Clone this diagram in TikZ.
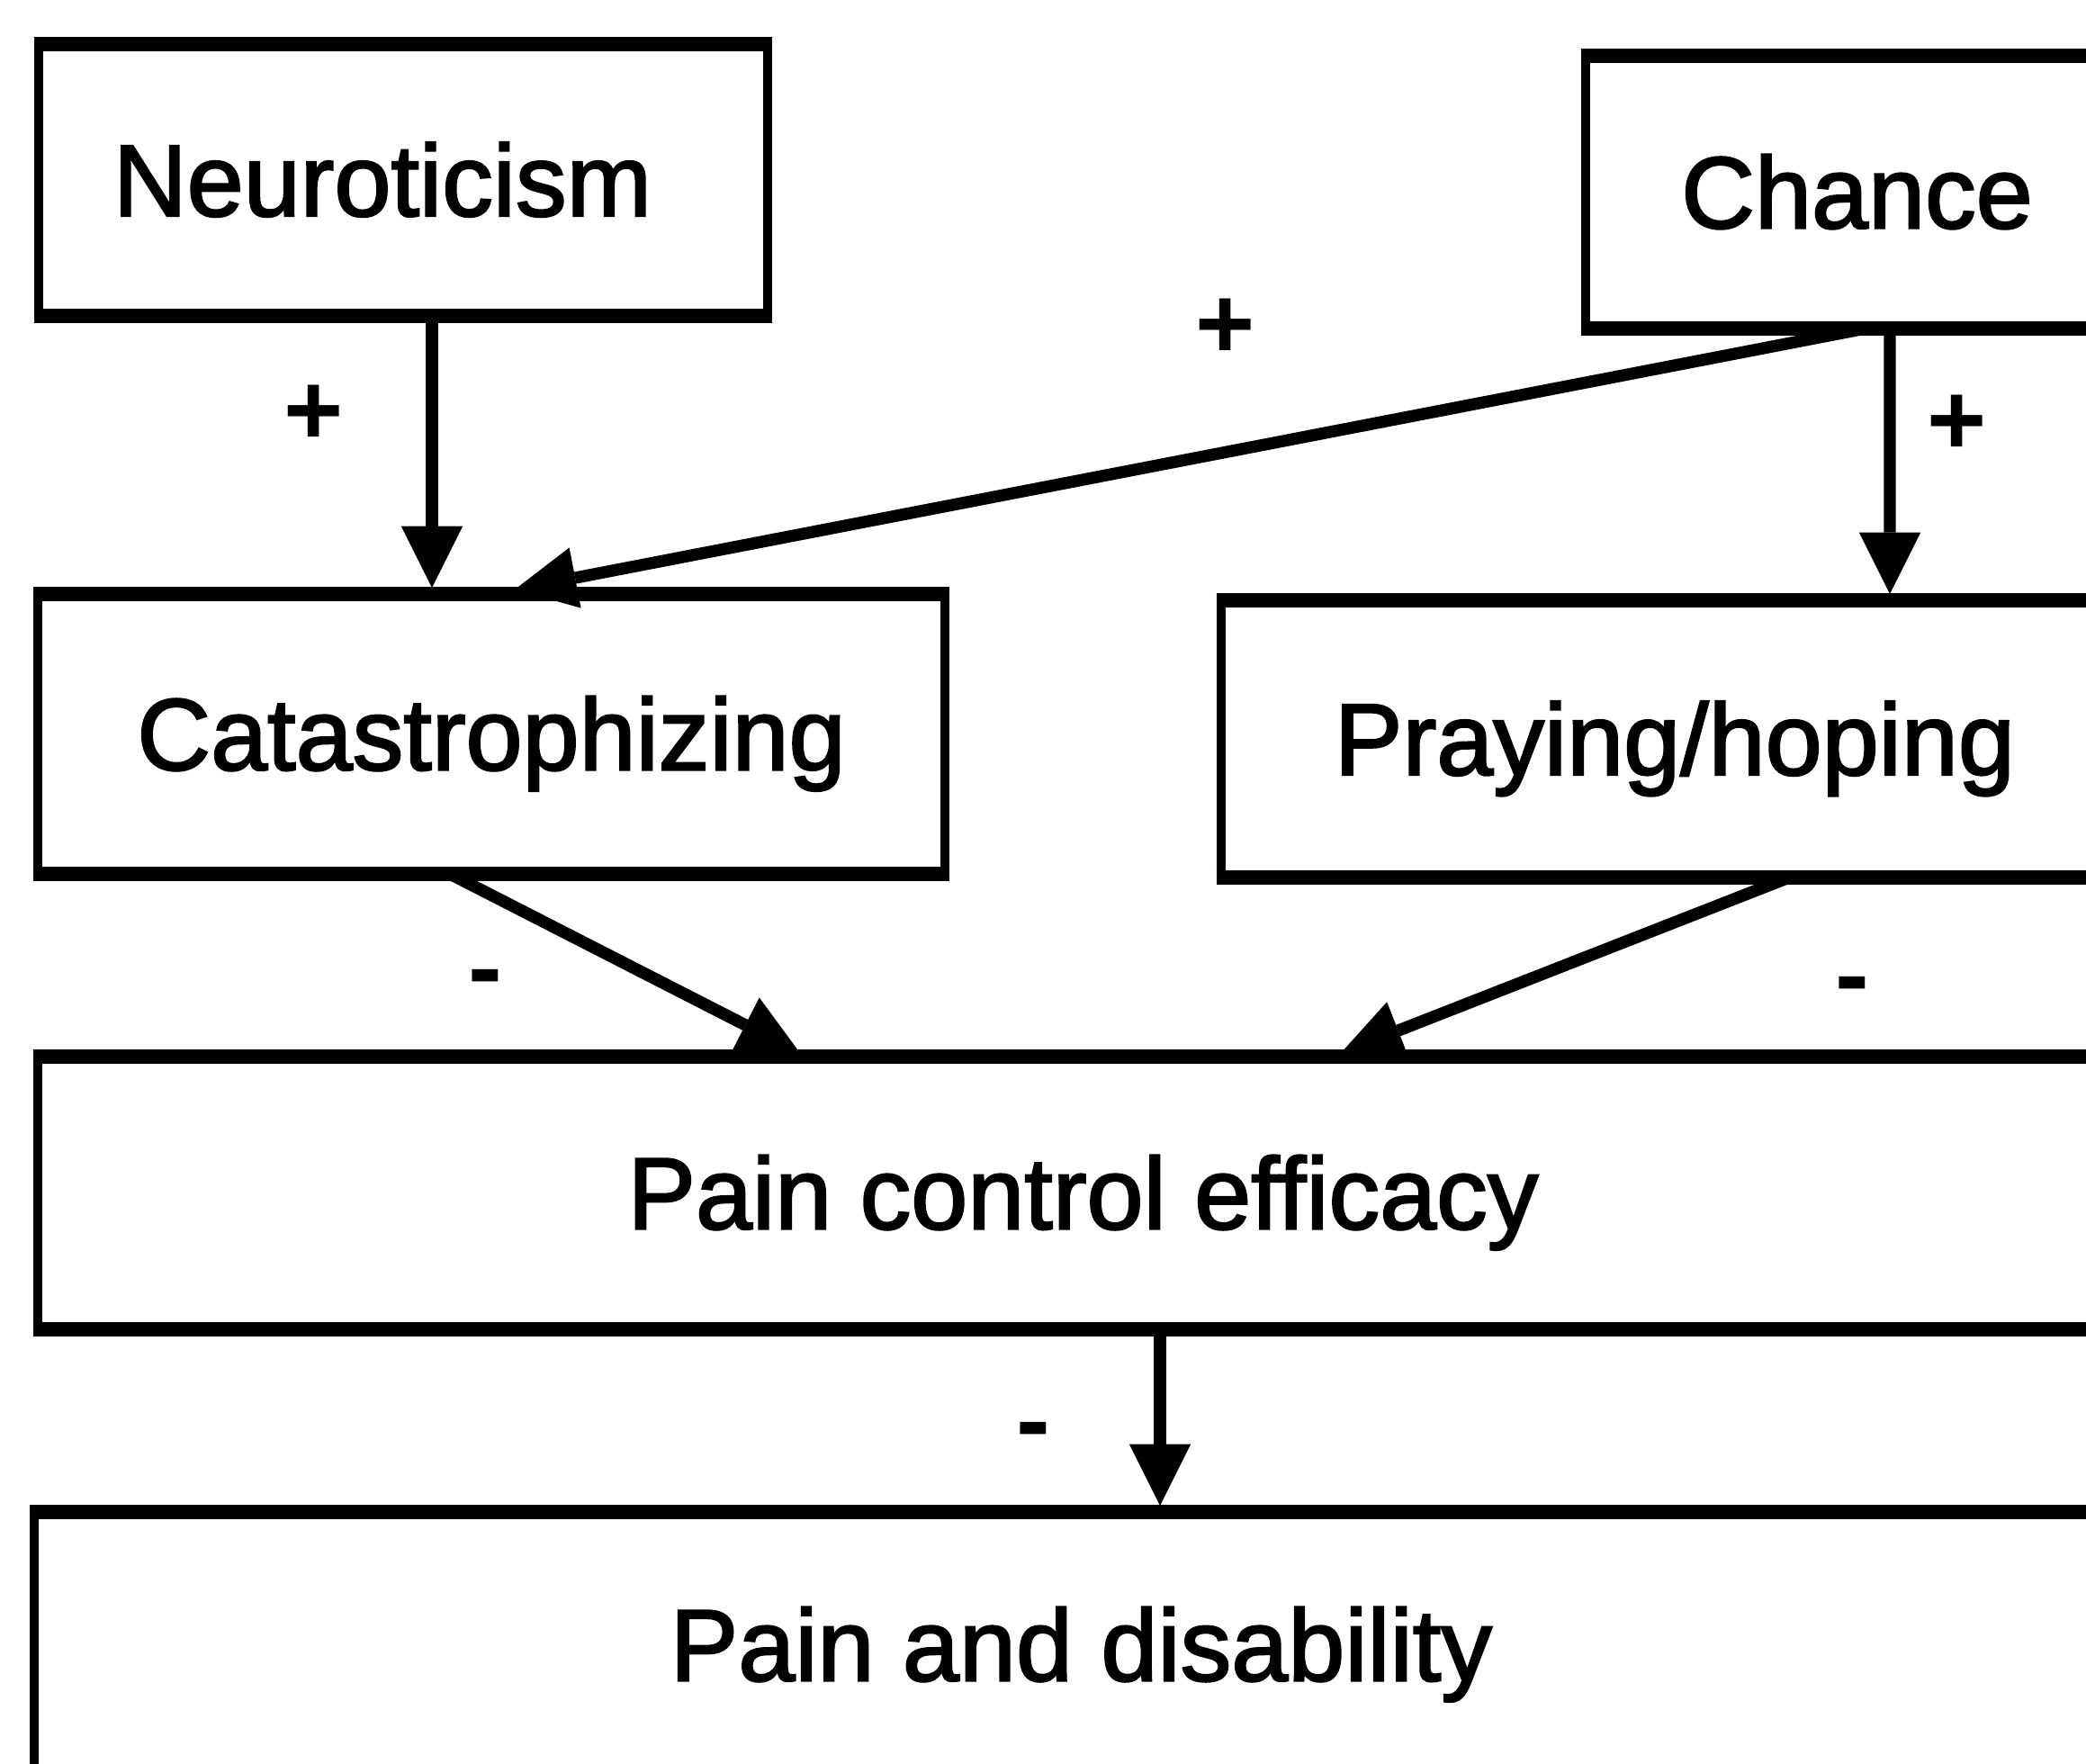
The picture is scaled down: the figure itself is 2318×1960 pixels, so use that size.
\documentclass[tikz,border=0pt]{standalone}
\usepackage{fontspec}
\setmainfont{Liberation Sans}
\newfontfamily\heavysans[FakeBold=2]{Liberation Sans}
\usetikzlibrary{arrows.meta,calc}
\newcommand\labfont{\heavysans\fontsize{34pt}{40pt}\selectfont}
\newcommand\sgnfont{\fontsize{34pt}{40pt}\selectfont\bfseries}
\tikzset{
  box/.style={draw, line width=3.2pt, fill=white, inner sep=0pt, outer sep=0pt,
    rectangle, font=\labfont, text height=24pt, text depth=0pt, align=center},
  hedge/.style={line width=4.8pt, shorten <=-1.6pt, shorten >=-1.6pt},
  conn/.style={line width=4pt, -{Triangle[length=20.5pt,width=20.5pt,line width=0pt]}},
  sign/.style={font=\sgnfont, inner sep=0pt},
}
\begin{document}
\begin{tikzpicture}[x=0.3pt, y=-0.3pt]
\useasboundingbox (0,0) rectangle (2318,1960);
\clip (0,0) rectangle (2318,1960);
% boxes
\node[box, minimum width=243pt, minimum height=90.6pt] (neu) at (448,200) {\hspace*{-13.8pt}Neuroticism};
\node[box, minimum width=180.9pt, minimum height=90.9pt] (chance) at (2063.5,213.5) {Chance};
\node[box, minimum width=302.4pt, minimum height=93.3pt] (cat) at (546,815.5) {Catastrophizing};
\node[box, minimum width=302.4pt, minimum height=92.4pt] (pray) at (1861,821) {Praying/hoping};
\node[box, minimum width=696.9pt, minimum height=90.9pt] (pce) at (1203.5,1325.5) {Pain control efficacy};
\node[box, minimum width=698.1pt, minimum height=88.5pt] (pd) at (1201.5,1827.5) {Pain and disability};
\foreach \n in {neu,chance,cat,pray,pce,pd}{
  \draw[hedge] (\n.north west) -- (\n.north east);
  \draw[hedge] (\n.south west) -- (\n.south east);
}
% connectors
\draw[conn] ($(neu.south)+(32,0)$) -- ($(cat.north)+(-66,-7)$);
\draw[conn] ($(chance.south west)+(311,0)$) -- ($(cat.north west)+(530,-5)$);
\draw[conn] ($(chance.south)+(36.5,0)$) -- ($(pray.north)+(239,-7)$);
\draw[conn] ($(cat.south west)+(458,0)$) -- ($(pce.north west)+(847,-4)$);
\draw[conn] ($(pray.south west)+(631,0)$) -- ($(pce.north west)+(1448,-4)$);
\draw[conn] ($(pce.south)+(85.5,0)$) -- ($(pd.north)+(87.5,-7)$);
% signs
\node[sign] (p1) at (349,461) {+};
\node[sign] (p2) at (1362,365) {+};
\node[sign] (p3) at (2175,472) {+};
\node[sign] (m1) at (539,1095) {-};
\node[sign] (m2) at (2058,1103) {-};
\node[sign] (m3) at (1148,1598) {-};
\end{tikzpicture}
\end{document}
